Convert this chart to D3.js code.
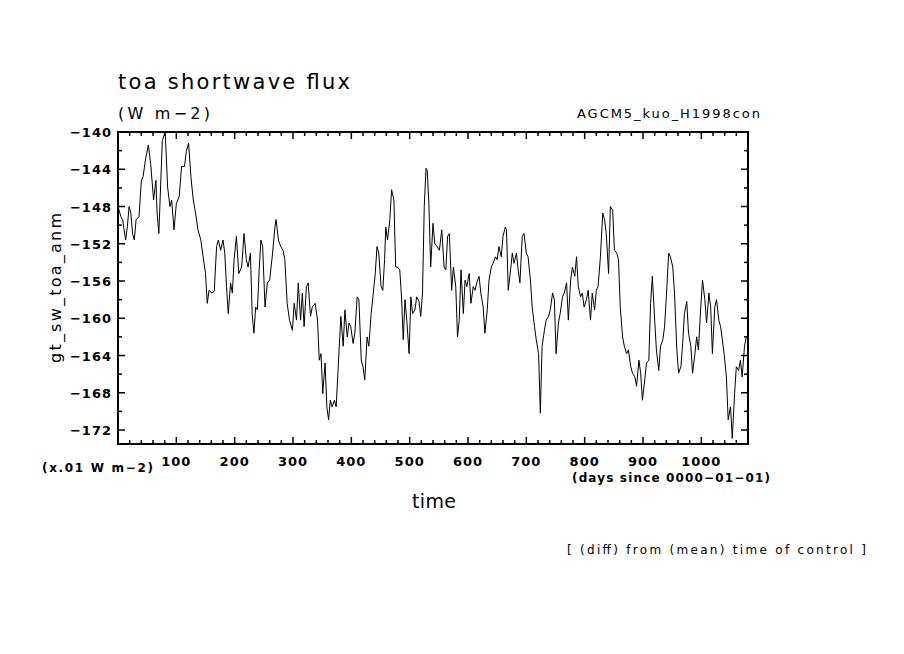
<!DOCTYPE html>
<html><head><meta charset="utf-8">
<script src="https://cdn.jsdelivr.net/npm/d3@7"></script>
<style>body{margin:0;background:#fff}text{font-family:"DejaVu Sans",sans-serif;fill:#000}</style>
</head><body>
<svg id="mainsvg" width="904" height="654"></svg>
<script>
const days = [0,5,8,13,16,19,22,25,28,31,36,40,43,47,52,56,61,65,67,70,73,76,81,85,89,92,96,100,105,109,114,117,121,125,129,133,137,142,146,150,153,156,161,165,169,172,176,180,183,186,189,193,196,199,203,207,212,216,220,223,227,230,233,236,239,242,245,248,252,256,260,265,269,271,275,279,283,286,290,294,299,302,306,309,313,316,319,323,326,330,333,338,342,345,348,351,355,358,361,364,367,371,374,377,379,382,386,389,393,396,399,403,406,410,413,417,420,423,427,430,434,437,441,444,447,451,454,457,459,462,466,469,473,476,479,483,486,489,492,495,499,502,505,509,512,516,519,522,525,528,530,533,536,540,543,547,551,555,559,562,565,568,572,575,579,582,585,588,592,595,598,602,605,609,612,615,619,622,626,629,633,636,640,643,647,650,653,657,660,664,666,669,673,676,679,683,686,689,693,696,700,703,707,710,714,717,721,724,727,731,734,738,741,745,748,751,755,758,762,765,769,772,776,779,783,786,789,793,796,799,803,806,810,813,817,820,823,827,831,834,837,841,844,848,851,855,858,861,865,868,872,875,879,882,886,889,893,896,899,903,906,910,913,916,920,923,927,930,934,937,941,944,947,951,954,958,961,965,968,971,975,978,982,985,989,992,995,999,1002,1006,1009,1013,1016,1019,1023,1026,1030,1033,1036,1039,1043,1046,1050,1053,1057,1060,1064,1067,1070,1074,1077];
const values = [-148.0,-149.1,-149.4,-151.6,-150.2,-148.0,-148.7,-150.9,-151.6,-149.4,-149.1,-145.2,-144.8,-143.0,-141.4,-143.4,-147.3,-145.2,-148.7,-150.9,-145.9,-140.9,-140.0,-145.9,-148.0,-147.3,-150.5,-147.7,-146.9,-143.7,-143.7,-142.1,-141.2,-144.8,-147.3,-148.7,-150.5,-151.6,-153.4,-155.2,-158.4,-157.0,-157.3,-157.1,-152.3,-151.6,-152.7,-151.6,-153.0,-156.6,-159.5,-156.2,-157.3,-153.7,-151.2,-155.2,-154.5,-150.9,-153.7,-154.5,-153.0,-159.5,-161.6,-158.8,-159.1,-154.8,-151.6,-152.3,-158.8,-156.2,-155.9,-153.0,-150.2,-149.4,-151.6,-152.3,-152.7,-153.7,-158.4,-160.2,-161.3,-158.4,-160.2,-156.2,-160.2,-157.3,-160.9,-156.6,-156.2,-159.8,-158.8,-158.4,-160.2,-164.5,-163.8,-168.1,-164.8,-169.5,-170.9,-168.8,-169.5,-168.8,-169.5,-165.9,-163.4,-159.8,-163.0,-159.1,-162.0,-160.5,-160.9,-162.7,-161.6,-157.7,-158.0,-164.5,-165.2,-166.6,-162.0,-163.0,-159.5,-157.7,-155.2,-152.3,-153.0,-156.6,-157.0,-153.7,-150.2,-151.6,-149.4,-146.2,-147.3,-154.5,-154.5,-154.8,-157.7,-162.3,-158.0,-160.2,-163.8,-157.7,-159.5,-159.1,-157.7,-158.2,-159.8,-157.3,-148.0,-143.9,-144.1,-147.7,-154.5,-149.8,-152.0,-152.3,-152.7,-150.5,-154.5,-154.8,-151.2,-150.9,-157.0,-154.5,-156.6,-162.0,-160.2,-154.8,-159.5,-155.9,-156.6,-155.2,-158.4,-156.6,-157.0,-156.2,-155.5,-157.3,-158.8,-161.6,-159.1,-155.9,-154.5,-154.1,-153.4,-153.7,-152.3,-153.4,-151.2,-150.2,-150.5,-157.0,-154.8,-153.0,-154.1,-153.0,-154.8,-156.2,-151.2,-150.9,-153.0,-153.4,-155.9,-158.8,-160.9,-162.3,-163.8,-170.2,-163.0,-161.3,-160.2,-159.8,-159.1,-157.3,-158.0,-163.8,-160.5,-159.5,-157.7,-157.3,-156.2,-160.2,-155.9,-154.5,-155.5,-153.4,-156.6,-157.7,-157.3,-158.8,-158.0,-157.0,-160.2,-157.3,-159.1,-157.0,-156.6,-153.4,-148.7,-149.4,-150.9,-155.2,-148.0,-148.4,-152.7,-153.0,-153.7,-158.8,-162.0,-163.0,-163.8,-163.4,-165.2,-165.9,-166.3,-167.3,-164.5,-165.9,-168.8,-166.6,-164.8,-164.5,-158.4,-155.5,-160.2,-163.4,-165.6,-163.0,-162.3,-160.9,-156.6,-153.0,-153.4,-154.5,-157.3,-163.4,-165.9,-165.2,-162.7,-159.5,-158.2,-161.6,-163.0,-165.9,-163.8,-162.0,-163.4,-158.8,-155.9,-158.0,-160.5,-157.3,-158.8,-163.8,-158.8,-158.0,-160.2,-160.9,-162.3,-163.8,-166.3,-170.9,-169.5,-172.9,-168.1,-165.2,-165.6,-164.5,-166.3,-163.0,-162.0];
const xMajor = [100,200,300,400,500,600,700,800,900,1000];
const yMajor = [-140,-144,-148,-152,-156,-160,-164,-168,-172];

const svg = d3.select('#mainsvg');
const L = 118, R = 748, T = 132, B = 444;
const x = d3.scaleLinear().domain([0, 1080]).range([L, R]);
const y = d3.scaleLinear().domain([-140, -173.5]).range([T, B]);

const line = d3.line().x((d, i) => x(days[i])).y(d => y(d));
svg.append('path').datum(values).attr('d', line)
  .attr('fill', 'none').attr('stroke', '#000').attr('stroke-width', 1);

svg.append('rect').attr('x', L).attr('y', T).attr('width', R - L).attr('height', B - T)
  .attr('fill', 'none').attr('stroke', '#000').attr('stroke-width', 2);

// ticks, pointing inward on all four sides
const xMinor = d3.range(20, 1080, 20);
const yMinor = d3.range(-142, -173.5, -2);
const tk = svg.append('g').attr('stroke', '#000').attr('stroke-width', 1.5);
xMinor.forEach(v => {
  const len = xMajor.includes(v) ? 7 : 4;
  tk.append('line').attr('x1', x(v)).attr('x2', x(v)).attr('y1', B).attr('y2', B - len);
  tk.append('line').attr('x1', x(v)).attr('x2', x(v)).attr('y1', T).attr('y2', T + len);
});
yMinor.forEach(v => {
  const len = yMajor.includes(v) ? 7 : 4;
  tk.append('line').attr('y1', y(v)).attr('y2', y(v)).attr('x1', L).attr('x2', L + len);
  tk.append('line').attr('y1', y(v)).attr('y2', y(v)).attr('x1', R).attr('x2', R - len);
});

svg.selectAll('.xl').data(xMajor).join('text')
  .attr('x', d => x(d)).attr('y', 466).attr('text-anchor', 'middle')
  .attr('font-size', 13).attr('font-weight', 'bold').attr('letter-spacing', 1).text(d => d);
svg.selectAll('.yl').data(yMajor).join('text')
  .attr('x', 112).attr('y', d => y(d) + 5).attr('text-anchor', 'end')
  .attr('font-size', 13).attr('font-weight', 'bold').attr('letter-spacing', 1).text(d => '\u2212' + Math.abs(d));

function label(xp, yp, size, txt, len, weight) {
  return svg.append('text').attr('x', xp).attr('y', yp).attr('font-size', size)
    .attr('font-weight', weight || 'normal')
    .attr('textLength', len).attr('lengthAdjust', 'spacing').text(txt);
}
label(118, 89, 21, 'toa shortwave flux', 232);
label(118, 119, 16, '(W m\u22122)', 92);
label(577, 118, 13, 'AGCM5_kuo_H1998con', 183);
svg.append('text').attr('transform', 'translate(61,288) rotate(-90)').attr('text-anchor', 'middle')
  .attr('font-size', 16).attr('textLength', 150).attr('lengthAdjust', 'spacing').text('gt_sw_toa_anm');
label(42, 472, 12, '(x.01 W m\u22122)', 111, 'bold');
label(572, 482, 12, '(days since 0000\u221201\u221201)', 198, 'bold');
label(412, 508, 19, 'time', 44);
label(567, 554, 12, '[ (diff) from (mean) time of control ]', 299);
</script>
</body></html>
